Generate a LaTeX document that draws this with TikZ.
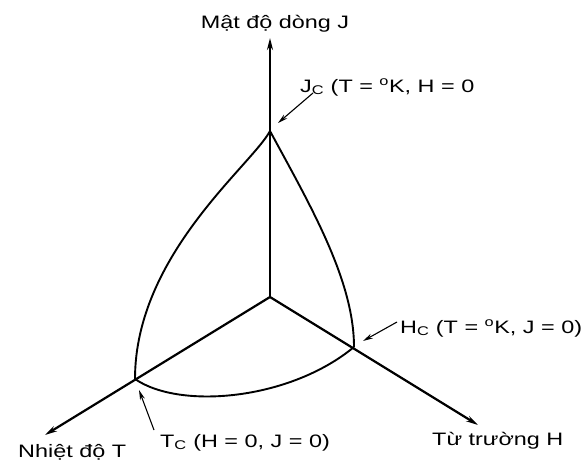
\documentclass[tikz,border=0pt]{standalone}
\usepackage{fontspec}
\newfontfamily\lblfont[FakeStretch=1.3]{Liberation Sans}
\usetikzlibrary{arrows.meta, positioning}

\begin{document}
\begin{tikzpicture}[x=1pt, y=-1pt,
      axis/.style={line width=2.2pt, -{Stealth[length=12pt, width=6pt]}},
      curve/.style={line width=1.9pt},
      pointer/.style={line width=1.1pt, -{Stealth[length=10pt, width=5pt]}},
      lbl/.style={font=\lblfont\fontsize{18}{20}\selectfont, inner sep=0pt}]
   \useasboundingbox (0,0) rectangle (587,461);
   % Points
   \coordinate (O) at (270,297);
   \coordinate (Jtip) at (270,38);
   \coordinate (Ttip) at (45,435);
   \coordinate (Htip) at (478,425);
   \coordinate (Jc) at (270,131);
   \coordinate (Tc) at (135,379);
   \coordinate (Hc) at (354,347);
   % Axes
   \draw[axis] (O) -- (Jtip);
   \draw[axis] (O) -- (Ttip);
   \draw[axis] (O) -- (Htip);
   % Critical surface
   \draw[curve] (Jc) .. controls (252,165) and (135,255) .. (Tc);
   \draw[curve] (Jc) .. controls (310,205) and (354,280) .. (Hc);
   \draw[curve] (Tc) .. controls (180,410) and (290,400) .. (Hc);
   % Axis labels
   \node[lbl, anchor=base] (labJ) at (275,28) {Mật độ dòng J};
   \node[lbl, anchor=base west] (labT) at (18,457) {Nhiệt độ T};
   \node[lbl, anchor=base west] (labH) at (432,445) {Từ trường H};
   % Critical values
   \node[lbl, anchor=base west] (labJc) at (300,92)
      {J\textsubscript{C} (T = \textsuperscript{o}K, H = 0};
   \node[lbl, anchor=base west] (labHc) at (400,333)
      {H\textsubscript{C} (T = \textsuperscript{o}K, J = 0)};
   \node[lbl, anchor=base west] (labTc) at (160,447)
      {T\textsubscript{C} (H = 0, J = 0)};
   % Pointers
   \coordinate (pJ) at (313,93);
   \coordinate (pJend) at (278,123);
   \coordinate (pH) at (397,322);
   \coordinate (pHend) at (363,341);
   \coordinate (pT) at (154,430);
   \coordinate (pTend) at (139,390);
   \draw[pointer] (pJ) -- (pJend);
   \draw[pointer] (pH) -- (pHend);
   \draw[pointer] (pT) -- (pTend);
\end{tikzpicture}
\end{document}
